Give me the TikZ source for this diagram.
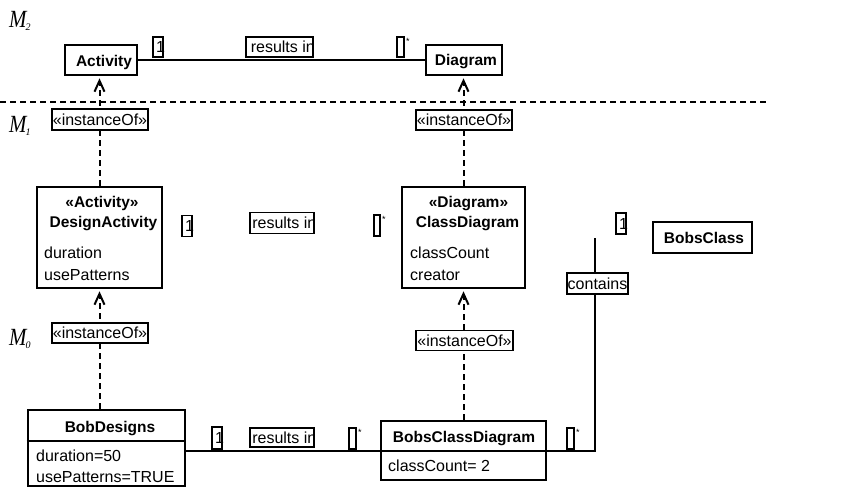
\documentclass[tikz,border=0pt]{standalone}
\usepackage{fontspec}
\setmainfont{Liberation Sans}
\newfontfamily\levelfont{Liberation Serif}
\usetikzlibrary{arrows.meta}

% level marks M_2, M_1, M_0
\newcommand\levelmark[1]{\levelfont\itshape\scalebox{1.1}[1.3]{\fontsize{19}{19}\selectfont M}\kern-1pt\raisebox{-3pt}{\fontsize{10}{10}\selectfont #1}}

\tikzset{
  every node/.style={inner sep=0pt, font=\fontsize{16}{18}\selectfont},
  boldtext/.style={font=\fontsize{15.5}{18}\selectfont\bfseries},
  classbox/.style={draw, line width=2.6pt, fill=white},
  divider/.style={line width=2pt},
  tagbox/.style={draw, line width=1.8pt, fill=white},
  startext/.style={font=\fontsize{9}{9}\selectfont, anchor=north west},
  assoc/.style={line width=2pt},
  levelline/.style={line width=2pt, dash pattern=on 6pt off 4pt},
  instline/.style={line width=2pt, dash pattern=on 6pt off 4pt,
    -{Straight Barb[length=11pt,width=10pt,line width=2pt]}, shorten >=2pt},
}

\begin{document}
\begin{tikzpicture}[x=1pt, y=-1pt]
\useasboundingbox (0,0) rectangle (859,491);

% ---------- level separator and level marks ----------
\coordinate (sepL) at (0,102);
\coordinate (sepR) at (766,102);
\draw[levelline] (sepL) -- (sepR);
\node[anchor=base west] (m2) at (9,27) {\levelmark{2}};
\node[anchor=base west] (m1) at (9,132) {\levelmark{1}};
\node[anchor=base west] (m0) at (9,345) {\levelmark{0}};

% ---------- class boxes ----------
\node[classbox, minimum width=72pt, minimum height=30pt] (act) at (101,60) {};
\node[classbox, minimum width=76pt, minimum height=30pt] (dgm) at (464,60) {};
\node[classbox, minimum width=125pt, minimum height=101pt] (desact) at (99.5,237.5) {};
\node[classbox, minimum width=123pt, minimum height=101pt] (clsdg) at (463.5,237.5) {};
\node[classbox, minimum width=99pt, minimum height=31pt] (bobcls) at (702.5,237.5) {};
\node[classbox, minimum width=157pt, minimum height=76pt] (bobdes) at (106.5,448) {};
\node[classbox, minimum width=165pt, minimum height=59pt] (bobcd) at (463.5,450.5) {};

% compartments of the object boxes
\coordinate (divA) at (0,441);
\coordinate (divB) at (0,451);
\draw[divider] (bobdes.west |- divA) -- (bobdes.east |- divA);
\draw[divider] (bobcd.west |- divB) -- (bobcd.east |- divB);

% ---------- class texts ----------
\node[boldtext, anchor=base] (actT) at (104,66) {Activity};
\node[boldtext, anchor=base] (dgmT) at (466,65.5) {Diagram};

\node[boldtext, anchor=base] (desactS) at (102,207) {«Activity»};
\node[boldtext, anchor=base] (desactT) at (103.5,227) {DesignActivity};
\node[anchor=base west] (desactA1) at (44,258) {duration};
\node[anchor=base west] (desactA2) at (44,280) {usePatterns};

\node[boldtext, anchor=base] (clsdgS) at (468.5,207) {«Diagram»};
\node[boldtext, anchor=base] (clsdgT) at (467.5,227) {ClassDiagram};
\node[anchor=base west] (clsdgA1) at (410,258) {classCount};
\node[anchor=base west] (clsdgA2) at (410,280) {creator};

\node[boldtext, anchor=base] (bobclsT) at (704,243) {BobsClass};

\node[boldtext, anchor=base] (bobdesT) at (110,432) {BobDesigns};
\node[anchor=base west] (bobdesA1) at (36,461) {duration=50};
\node[anchor=base west] (bobdesA2) at (36,482) {usePatterns=TRUE};

\node[boldtext, anchor=base] (bobcdT) at (464,442) {BobsClassDiagram};
\node[anchor=base west] (bobcdA1) at (388,471) {classCount= 2};

% ---------- instanceOf dependencies ----------
\draw[instline] (desact.north) -- (desact.north |- act.south);
\draw[instline] (clsdg.north) -- (clsdg.north |- dgm.south);
\draw[instline] (bobdes.north -| desact.south) -- (desact.south);
\draw[instline] (bobcd.north) -- (clsdg.south);

\node[tagbox, minimum width=96pt, minimum height=21pt] (inst1) at (100,119.5) {«instanceOf»};
\node[tagbox, minimum width=96pt, minimum height=20pt] (inst2) at (464,120) {«instanceOf»};
\node[tagbox, minimum width=96pt, minimum height=20pt] (inst3) at (100,333) {«instanceOf»};
\node[tagbox, minimum width=97pt, minimum height=20pt] (inst4) at (464.5,340.5) {«instanceOf»};

% ---------- associations ----------
\draw[assoc] (act.east) -- (dgm.west);
\draw[assoc] (bobdes.east |- bobcd.center) -- (bobcd.west);
\coordinate (cend) at (595,238);
\draw[assoc] (bobcd.east) -- (bobcd.east -| cend) -- (cend);

% ---------- multiplicity and role tags ----------
% "1" tags: the digit's stem sits on the right edge of its frame
\node[tagbox, minimum width=10pt, minimum height=20pt] (one1) at (158,47) {};
\node (one1T) at ([xshift=2.6pt]one1.center) {1};
\node[tagbox, minimum width=10pt, minimum height=21pt] (one2) at (187,226) {};
\node (one2T) at ([xshift=2.6pt]one2.center) {1};
\node[tagbox, minimum width=10pt, minimum height=21pt] (one3) at (621,223.5) {};
\node (one3T) at ([xshift=2.6pt]one3.center) {1};
\node[tagbox, minimum width=10pt, minimum height=22pt] (one4) at (217,438) {};
\node (one4T) at ([xshift=2.6pt]one4.center) {1};

% "*" tags
\node[tagbox, minimum width=7pt, minimum height=20pt] (star1) at (400.5,47) {};
\node[startext] (star1T) at ([xshift=1pt,yshift=-2pt]star1.north east) {*};
\node[tagbox, minimum width=6pt, minimum height=21pt] (star2) at (377,225.5) {};
\node[startext] (star2T) at ([xshift=1pt,yshift=-2pt]star2.north east) {*};
\node[tagbox, minimum width=7pt, minimum height=21pt] (star3) at (352.5,438.5) {};
\node[startext] (star3T) at ([xshift=1pt,yshift=-2pt]star3.north east) {*};
\node[tagbox, minimum width=7pt, minimum height=21pt] (star4) at (570.5,438.5) {};
\node[startext] (star4T) at ([xshift=1pt,yshift=-2pt]star4.north east) {*};

% "results in" tags, text cut off at the frame
\node[tagbox, minimum width=67pt, minimum height=20pt] (res1) at (279.5,47) {};
\begin{scope}
  \clip (res1.south west) rectangle (res1.north east);
  \node[anchor=west] (res1T) at ([xshift=5.5pt]res1.west) {results in};
\end{scope}
\node[tagbox, minimum width=64pt, minimum height=21pt] (res2) at (282,223) {};
\begin{scope}
  \clip (res2.south west) rectangle (res2.north east);
  \node[anchor=west] (res2T) at ([xshift=3pt]res2.west) {results in};
\end{scope}
\node[tagbox, minimum width=64pt, minimum height=19pt] (res3) at (282,437.5) {};
\begin{scope}
  \clip (res3.south west) rectangle (res3.north east);
  \node[anchor=west] (res3T) at ([xshift=3pt]res3.west) {results in};
\end{scope}

% role name on the containment link
\node[tagbox, minimum width=61pt, minimum height=21pt] (cont) at (597.5,283.5) {contains};

\end{tikzpicture}
\end{document}
